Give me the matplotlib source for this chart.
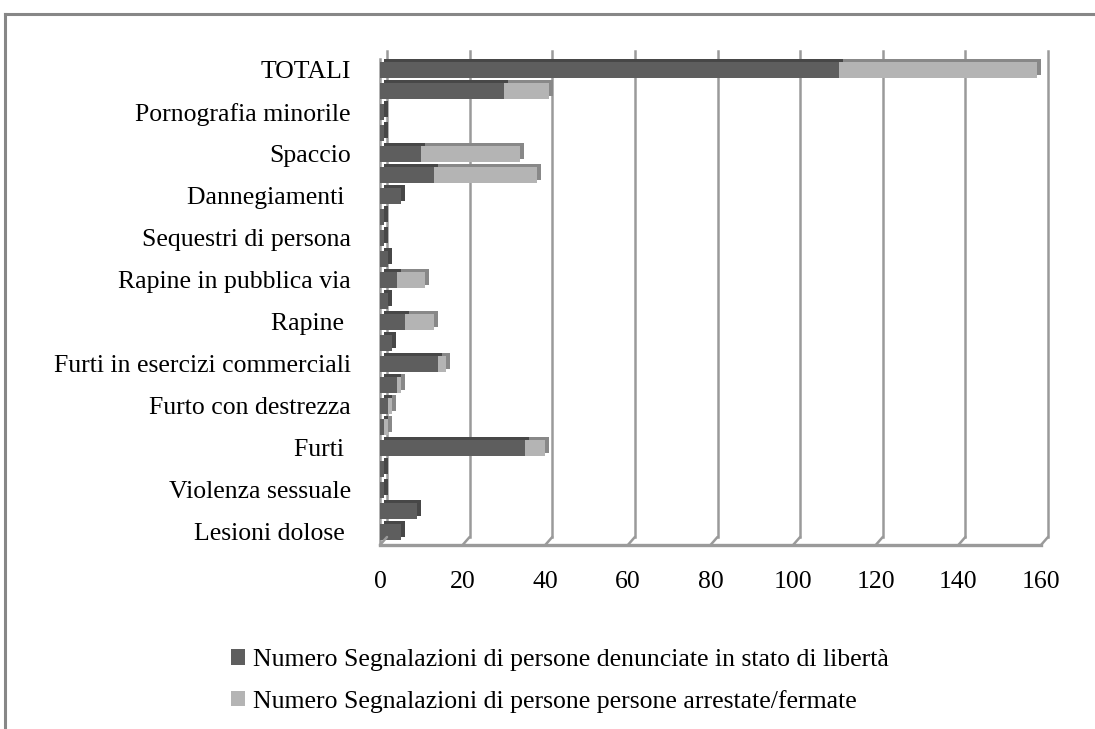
import matplotlib
matplotlib.use("Agg")
import matplotlib.pyplot as plt
import numpy as np
from matplotlib.transforms import offset_copy
from matplotlib.patches import ConnectionPatch, Patch
from matplotlib.lines import Line2D

# categories from top to bottom (only every second label is shown in the chart)
categories = [
    "TOTALI", "", "Pornografia minorile", "", "Spaccio", "", "Dannegiamenti ", "",
    "Sequestri di persona", "", "Rapine in pubblica via", "", "Rapine ", "",
    "Furti in esercizi commerciali", "", "Furto con destrezza", "", "Furti ", "",
    "Violenza sessuale", "", "Lesioni dolose ",
]
denunciate = [111, 30, 1, 1, 10, 13, 5, 1, 1, 2, 4, 2, 6, 3, 14, 4, 2, 1, 35, 1, 1, 9, 5]
arrestate = [48, 11, 0, 0, 24, 25, 0, 0, 0, 0, 7, 0, 7, 0, 2, 1, 1, 1, 5, 0, 0, 0, 0]
legend_labels = [
    "Numero Segnalazioni di persone denunciate in stato di libertà",
    "Numero Segnalazioni di persone persone arrestate/fermate",
]
xticks = [0, 20, 40, 60, 80, 100, 120, 140, 160]

plt.rcParams['font.family'] = ['Liberation Serif', 'DejaVu Serif']
FS = 18.5

W, H = 1095, 729
fig = plt.figure(figsize=(W / 100, H / 100), dpi=100)
fig.patch.set_facecolor('white')

ax_left, ax_right, ax_top, ax_bot = 380, 1041, 59, 545
ax = fig.add_axes([ax_left / W, 1 - ax_bot / H, (ax_right - ax_left) / W, (ax_bot - ax_top) / H])

n = len(categories)
y = np.arange(n)[::-1]
d = np.array(denunciate)
a = np.array(arrestate)

dark_front, dark_back = "#5e5e5e", "#474747"
light_front, light_back = "#b4b4b4", "#888888"
grid_col = "#9a9a9a"

ax.set_xlim(0, 160)
ax.set_ylim(-0.62, n - 1 + 0.52)

# back plane gridlines
back = offset_copy(ax.get_xaxis_transform(), fig=fig, x=7, y=8, units='dots')
for xv in xticks:
    ax.plot([xv, xv], [0, 1], transform=back, color=grid_col, lw=1.8, clip_on=False, zorder=0.5)
    cp = ConnectionPatch(xyA=(xv, 0), coordsA=back, xyB=(xv, 0), coordsB=ax.get_xaxis_transform(),
                         color=grid_col, lw=1.8, zorder=0.5)
    fig.add_artist(cp)

h = 0.74
shadow = offset_copy(ax.transData, fig=fig, x=4, y=3, units='dots')
ax.barh(y, d, height=h, color=dark_back, transform=shadow, zorder=2, linewidth=0)
ax.barh(y, a, left=d, height=h, color=light_back, transform=shadow, zorder=2, linewidth=0)
ax.barh(y, d, height=h, color=dark_front, zorder=3, linewidth=0)
ax.barh(y, a, left=d, height=h, color=light_front, zorder=3, linewidth=0)

for s in ['top', 'right']:
    ax.spines[s].set_visible(False)
ax.spines['bottom'].set_color(grid_col)
ax.spines['bottom'].set_linewidth(2.4)
ax.spines['left'].set_color(grid_col)
ax.spines['left'].set_linewidth(1.8)

ax.set_xticks(xticks)
ax.set_xticklabels([str(v) for v in xticks], fontsize=FS)
ax.set_yticks(y)
ax.set_yticklabels(categories, fontsize=FS)
ax.tick_params(axis='x', length=0, pad=19)
ax.tick_params(axis='y', length=0, pad=21)

# legend
handles = [Patch(facecolor=dark_front, edgecolor='none'), Patch(facecolor=light_front, edgecolor='none')]
fig.legend(handles, legend_labels, loc='upper left', bbox_to_anchor=(221 / W, 1 - 639 / H),
           frameon=False, fontsize=FS, handlelength=0.55, handleheight=0.55,
           handletextpad=0.3, labelspacing=0.72, borderaxespad=0)

# outer frame (top and left)
fig.add_artist(Line2D([5 / W, 1.0], [1 - 14 / H, 1 - 14 / H], transform=fig.transFigure, color="#878787", lw=2.2))
fig.add_artist(Line2D([5 / W, 5 / W], [0, 1 - 14 / H], transform=fig.transFigure, color="#878787", lw=2.2))

fig.savefig("out.png", dpi=100, facecolor='white')
